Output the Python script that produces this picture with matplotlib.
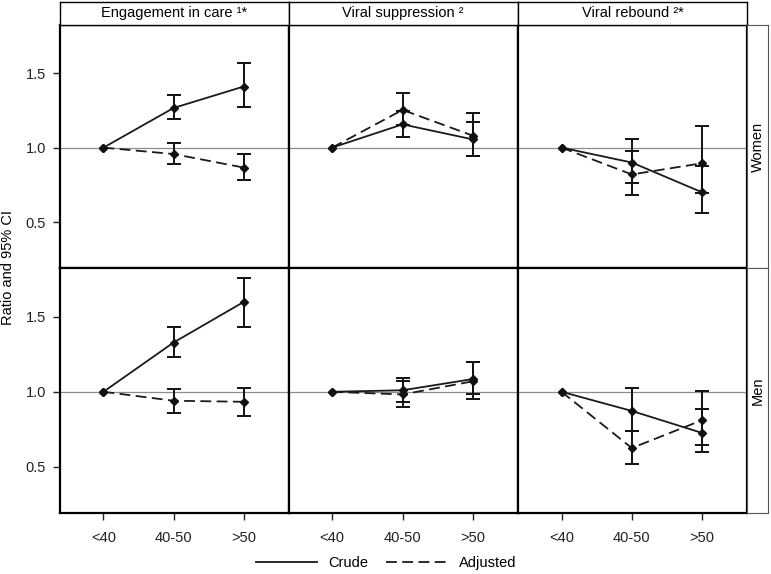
import matplotlib
matplotlib.use("Agg")
import matplotlib.pyplot as plt
from matplotlib.lines import Line2D

plt.rcParams['font.family'] = ['Liberation Sans', 'DejaVu Sans']

# categories and panels
age_groups = ['<40', '40-50', '>50']
outcomes = ['Engagement in care \u00b9*', 'Viral suppression \u00b2', 'Viral rebound \u00b2*']
sexes = ['Women', 'Men']

# crude ratio and 95% CI  [sex][outcome] -> per age group
crude = {
    'Women': [[1.0, 1.266, 1.41], [1.0, 1.156, 1.055], [1.0, 0.90, 0.70]],
    'Men':   [[1.0, 1.329, 1.60], [1.0, 1.01, 1.085], [1.0, 0.872, 0.725]],
}
crude_lo = {
    'Women': [[1.0, 1.19, 1.275], [1.0, 1.074, 0.946], [1.0, 0.763, 0.56]],
    'Men':   [[1.0, 1.235, 1.436], [1.0, 0.935, 0.985], [1.0, 0.74, 0.595]],
}
crude_hi = {
    'Women': [[1.0, 1.356, 1.566], [1.0, 1.244, 1.175], [1.0, 1.058, 0.877]],
    'Men':   [[1.0, 1.436, 1.758], [1.0, 1.094, 1.20], [1.0, 1.027, 0.886]],
}
# adjusted ratio and 95% CI
adjusted = {
    'Women': [[1.0, 0.957, 0.866], [1.0, 1.253, 1.08], [1.0, 0.82, 0.895]],
    'Men':   [[1.0, 0.94, 0.933], [1.0, 0.982, 1.07], [1.0, 0.624, 0.81]],
}
adj_lo = {
    'Women': [[1.0, 0.89, 0.783], [1.0, 1.149, 0.946], [1.0, 0.685, 0.698]],
    'Men':   [[1.0, 0.861, 0.837], [1.0, 0.90, 0.953], [1.0, 0.519, 0.644]],
}
adj_hi = {
    'Women': [[1.0, 1.03, 0.957], [1.0, 1.367, 1.233], [1.0, 0.98, 1.146]],
    'Men':   [[1.0, 1.018, 1.027], [1.0, 1.072, 1.20], [1.0, 0.74, 1.002]],
}

W, H = 771, 574
fig = plt.figure(figsize=(W / 100, H / 100), dpi=100)


def rect(x0, y0, x1, y1):
    return [x0 / W, 1 - y1 / H, (x1 - x0) / W, (y1 - y0) / H]


col_edges = [60, 288.5, 518, 747]
row_edges = [24.7, 268.3, 513]
x = list(range(len(age_groups)))

for r, sex in enumerate(sexes):
    for c in range(3):
        ax = fig.add_axes(rect(col_edges[c], row_edges[r], col_edges[c + 1], row_edges[r + 1]))
        ax.axhline(1.0, color='#8c8c8c', lw=0.9, zorder=1)
        for vals, lo, hi, ls in [(crude[sex][c], crude_lo[sex][c], crude_hi[sex][c], '-'),
                                 (adjusted[sex][c], adj_lo[sex][c], adj_hi[sex][c], (0, (6, 3)))]:
            ax.plot(x, vals, color='#1a1a1a', lw=1.3, linestyle=ls, zorder=3)
            yerr = [[v - l for v, l in zip(vals, lo)], [h - v for v, h in zip(vals, hi)]]
            ax.errorbar(x[1:], vals[1:], yerr=[yerr[0][1:], yerr[1][1:]], fmt='none',
                        ecolor='#111111', elinewidth=1.4, capsize=5, capthick=1.4, zorder=4)
            ax.plot(x, vals, linestyle='none', marker='D', ms=4.5, color='#111111', zorder=5)
        ax.set_xlim(-0.62, 2.64)
        ax.set_ylim(0.19, 1.825)
        for s in ax.spines.values():
            s.set_linewidth(1.6)
        ax.set_yticks([0.5, 1.0, 1.5])
        ax.set_yticklabels(['0.5', '1.0', '1.5'])
        ax.set_xticks(x)
        ax.set_xticklabels(age_groups)
        ax.tick_params(length=5, width=1, labelsize=10.5, colors='#222222', pad=5)
        if c != 0:
            ax.tick_params(axis='y', left=False, labelleft=False)
        if r == 0:
            ax.tick_params(axis='x', bottom=False, labelbottom=False)
        else:
            ax.tick_params(axis='x', pad=8)

# column headers
for c, title in enumerate(outcomes):
    hax = fig.add_axes(rect(col_edges[c], 2, col_edges[c + 1], row_edges[0]))
    hax.set_xticks([])
    hax.set_yticks([])
    for s in hax.spines.values():
        s.set_linewidth(1.0)
    hax.text(0.5, 0.5, title, ha='center', va='center', fontsize=10.5, transform=hax.transAxes)

# row strips
for r, sex in enumerate(sexes):
    sax = fig.add_axes(rect(col_edges[-1], row_edges[r], 768, row_edges[r + 1]))
    sax.set_xticks([])
    sax.set_yticks([])
    for s in sax.spines.values():
        s.set_linewidth(0.8)
        s.set_color('#555555')
    sax.text(0.5, 0.5, sex, rotation=90, ha='center', va='center', fontsize=10.5,
             transform=sax.transAxes)

fig.text(8 / W, 1 - 268 / H, 'Ratio and 95% CI', rotation=90, ha='center', va='center',
         fontsize=10.5)

handles = [Line2D([], [], color='#1a1a1a', lw=1.3, linestyle='-'),
           Line2D([], [], color='#1a1a1a', lw=1.3, linestyle=(0, (6, 3)))]
fig.legend(handles, ['Crude', 'Adjusted'], loc='center', bbox_to_anchor=(386 / W, 1 - 563 / H),
           ncol=2, frameon=False, handlelength=4.2, columnspacing=1.2, fontsize=10.5)

fig.savefig('out.png', dpi=100)
